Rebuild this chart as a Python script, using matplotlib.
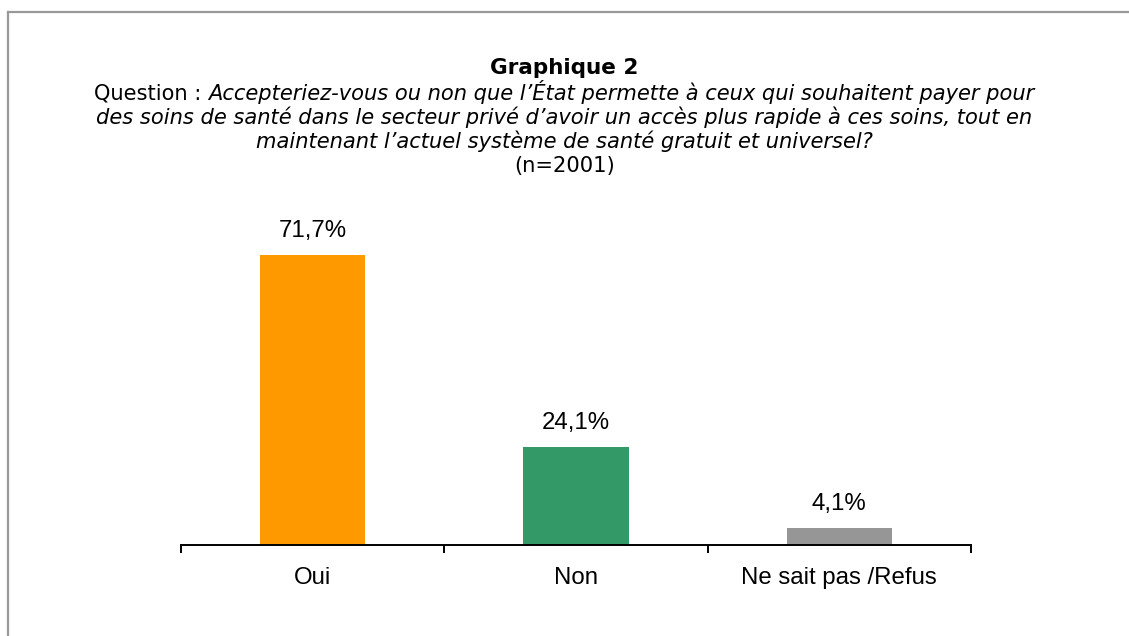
import matplotlib
matplotlib.use("Agg")
import matplotlib.pyplot as plt
from matplotlib.lines import Line2D
from matplotlib.ticker import FixedLocator

categories = ["Oui", "Non", "Ne sait pas /Refus"]
values = [71.7, 24.1, 4.1]
value_labels = ["71,7%", "24,1%", "4,1%"]
colors = ["#FF9900", "#339966", "#969696"]

title = "Graphique 2"
q_prefix = "Question : "
q_line1 = "Accepteriez-vous ou non que l\u2019État permette à ceux qui souhaitent payer pour"
q_line2 = "des soins de santé dans le secteur privé d\u2019avoir un accès plus rapide à ces soins, tout en"
q_line3 = "maintenant l\u2019actuel système de santé gratuit et universel?"
n_text = "(n=2001)"

W, H = 1129, 636
DPI = 100
fig = plt.figure(figsize=(W / DPI, H / DPI), dpi=DPI)
fig.patch.set_facecolor("white")

def fx(px):
    return px / W

def fy(py):
    return 1 - py / H

# border (top and left)
fig.add_artist(Line2D([fx(8), 1.0], [fy(12), fy(12)], color="#999999", lw=1.6, transform=fig.transFigure))
fig.add_artist(Line2D([fx(8), fx(8)], [fy(12), 0.0], color="#999999", lw=1.6, transform=fig.transFigure))

ax = fig.add_axes([fx(181), fy(545), fx(971) - fx(181), (545 - 221) / H])
x = list(range(len(categories)))
ax.bar(x, values, width=0.4, color=colors)
ax.set_xlim(-0.5, len(categories) - 0.5)
ax.set_ylim(0, 80)
for s in ["top", "right", "left"]:
    ax.spines[s].set_visible(False)
ax.spines["bottom"].set_linewidth(1.4)
ax.spines["bottom"].set_color("black")
ax.set_yticks([])
ax.set_xticks(x)
ax.set_xticklabels(categories, fontsize=17.3, family="Liberation Sans")
ax.tick_params(axis="x", which="major", length=0, pad=16)
ax.xaxis.set_minor_locator(FixedLocator([i - 0.5 for i in range(len(categories) + 1)]))
ax.tick_params(axis="x", which="minor", length=6, width=1.4, direction="out", color="black")
ax.patch.set_alpha(0)

for xi, v, lab in zip(x, values, value_labels):
    ax.annotate(lab, (xi, v), xytext=(0, 13), textcoords="offset points",
                ha="center", va="baseline", fontsize=17.3, family="Liberation Sans")

tfont = "DejaVu Sans"
tsize = 15.1
fig.text(0.5, fy(74), title, ha="center", va="baseline", fontsize=15.5, fontweight="bold", family=tfont)

# line 1: mixed normal + italic
renderer = fig.canvas.get_renderer()
t1 = fig.text(0, fy(100), q_prefix, ha="left", va="baseline", fontsize=tsize, family=tfont)
t2 = fig.text(0, fy(100), q_line1, ha="left", va="baseline", fontsize=tsize, family=tfont, style="italic")
w1 = t1.get_window_extent(renderer).width
w2 = t2.get_window_extent(renderer).width
start = (W - (w1 + w2)) / 2
t1.set_x(fx(start))
t2.set_x(fx(start + w1))

fig.text(0.5, fy(124), q_line2, ha="center", va="baseline", fontsize=tsize, family=tfont, style="italic")
fig.text(0.5, fy(148), q_line3, ha="center", va="baseline", fontsize=tsize, family=tfont, style="italic")
fig.text(0.5, fy(172), n_text, ha="center", va="baseline", fontsize=tsize, family=tfont)

fig.savefig("out.png", dpi=DPI, facecolor="white")
